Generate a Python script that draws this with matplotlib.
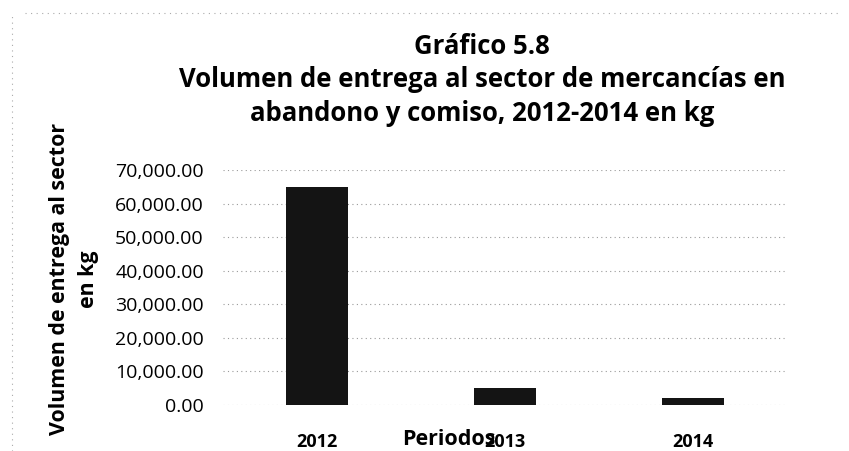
import matplotlib
matplotlib.use('Agg')
import matplotlib.pyplot as plt
from matplotlib.lines import Line2D

periods = ['2012', '2013', '2014']
volume_kg = [65000, 5200, 2000]
y_ticks = [0, 10000, 20000, 30000, 40000, 50000, 60000, 70000]

plt.rcParams['font.family'] = ['Open Sans', 'DejaVu Sans']

fig = plt.figure(figsize=(8.49, 4.51), dpi=100)
ax = fig.add_axes([0.263, 0.102, 0.664, 0.521])

x = range(len(periods))
ax.bar(x, volume_kg, width=0.33, color='#141414', zorder=3)

ax.set_xlim(-0.5, 2.5)
ax.set_ylim(0, 70000)
ax.set_yticks(y_ticks)
ax.set_yticklabels(['{:,.2f}'.format(v) for v in y_ticks], fontsize=14)
ax.set_xticks(list(x))
ax.set_xticklabels(periods, fontsize=13, fontweight='bold')
ax.tick_params(axis='y', length=0, pad=14)
ax.tick_params(axis='x', length=0, pad=20)
for s in ax.spines.values():
    s.set_visible(False)
ax.grid(axis='y', color='#9a9a9a', linestyle=(0, (1, 3)), linewidth=0.8, zorder=0)

title_x = 0.568
fig.text(title_x, 0.898, 'Gráfico 5.8', ha='center', va='center', fontsize=18.5, fontweight='bold')
fig.text(title_x, 0.823, 'Volumen de entrega al sector de mercancías en', ha='center', va='center',
         fontsize=18.5, fontweight='bold')
fig.text(title_x, 0.748, 'abandono y comiso, 2012-2014 en kg', ha='center', va='center',
         fontsize=18.5, fontweight='bold')

fig.text(0.087, 0.381, 'Volumen de entrega al sector\nen kg', rotation=90, ha='center', va='center',
         fontsize=15.4, fontweight='bold', linespacing=1.5, multialignment='center')
fig.text(0.529, 0.025, 'Periodos', ha='center', va='center', fontsize=15.5, fontweight='bold')

# scan edge lines
fig.add_artist(Line2D([0.03, 0.99], [0.972, 0.972], transform=fig.transFigure,
                      color='#aaaaaa', linestyle=(0, (1, 4)), linewidth=0.8))
fig.add_artist(Line2D([0.014, 0.014], [0.0, 0.97], transform=fig.transFigure,
                      color='#aaaaaa', linestyle=(0, (1, 4)), linewidth=0.8))

fig.savefig('out.png', dpi=100, facecolor='white')
